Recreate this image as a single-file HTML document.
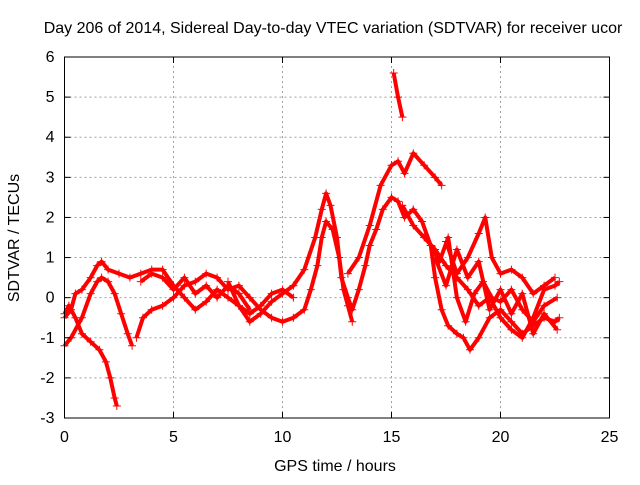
<!DOCTYPE html>
<html><head><meta charset="utf-8"><style>
body{margin:0;background:#fff;}
svg text{font-family:"Liberation Sans",sans-serif;font-size:16px;fill:#000;}
</style></head><body>
<svg id="chart" width="640" height="480" xmlns="http://www.w3.org/2000/svg">
<text x="333" y="33" text-anchor="middle">Day 206 of 2014, Sidereal Day-to-day VTEC variation (SDTVAR) for receiver ucor</text>
<text x="335" y="471" text-anchor="middle">GPS time / hours</text>
<text transform="translate(19,238) rotate(-90)" text-anchor="middle">SDTVAR / TECUs</text>
<g id="grid"></g><g id="series"></g><g id="axes"></g>
</svg>
<script>
const xTicks=[0,5,10,15,20,25];
const yTicks=[-3,-2,-1,0,1,2,3,4,5,6];
const t1=[[0,-0.4],[0.2,-0.2],[0.5,-0.5],[0.8,-0.9],[1.2,-1.1],[1.6,-1.3],[1.9,-1.6],[2.1,-2.0],[2.3,-2.5],[2.4,-2.7]];
const t2=[[0,-1.2],[0.3,-1.0],[0.8,-0.5],[1.2,0.1],[1.5,0.4],[1.7,0.5],[2.0,0.4],[2.3,0.1],[2.6,-0.4],[2.9,-0.9],[3.1,-1.2]];
const t3=[[0,-0.5],[0.3,-0.3],[0.5,0.1],[0.8,0.2],[1.2,0.5],[1.5,0.8],[1.7,0.9],[2.0,0.7],[2.5,0.6],[3.0,0.5],[3.5,0.6],[4.0,0.7],[4.5,0.7],[5,0.3],[5.5,0.0],[6,-0.3],[6.5,-0.1],[7,0.2],[7.5,0.0],[8,-0.2],[8.5,-0.4],[9,-0.2],[9.5,0.1],[10,0.2],[10.5,0.0]];
const t4=[[3.3,-1.0],[3.6,-0.5],[4.0,-0.3],[4.5,-0.2],[5,0.0],[5.5,0.3],[6,0.4],[6.5,0.6],[7,0.5],[7.5,0.2],[8,0.3],[8.5,0.0],[9,-0.3],[9.5,-0.5],[10,-0.6],[10.5,-0.5],[11,-0.3],[11.3,0.2],[11.6,0.8],[11.8,1.5],[12,1.9],[12.3,1.7],[12.6,1.0],[12.8,0.2],[13,-0.2],[13.2,-0.6]];
const t5=[[7.5,0.4],[8,-0.2],[8.5,-0.6],[9,-0.4],[9.5,-0.1],[10,0.1],[10.5,0.3],[11,0.7],[11.5,1.5],[11.8,2.2],[12,2.6],[12.2,2.3],[12.5,1.5],[12.7,0.5],[13,0.0],[13.2,-0.3],[13.5,0.2],[13.8,0.8],[14,1.3],[14.3,1.7],[14.6,2.2],[15,2.5],[15.3,2.4],[15.6,2.0],[16,2.2],[16.4,1.9],[16.8,1.3],[17,0.5],[17.3,-0.3],[17.6,-0.7],[18,-0.9],[18.3,-1.0],[18.6,-1.3],[19,-1.0],[19.5,-0.5],[20,-0.3],[20.5,-0.6],[21,-0.9],[21.5,-0.7],[22,-0.5],[22.5,-0.6],[22.7,-0.5]];
const t6=[[13,0.6],[13.5,1.0],[14,1.8],[14.5,2.8],[15,3.3],[15.3,3.4],[15.6,3.1],[16,3.6],[16.5,3.3],[17,3.0],[17.3,2.8]];
const t7=[[15.1,5.6],[15.3,5.0],[15.5,4.5]];
const t8=[[15.5,2.3],[16,1.8],[16.5,1.5],[17,1.2],[17.5,0.8],[18,0.5],[18.5,0.2],[19,-0.2],[19.5,0.0],[20,-0.5],[20.5,-0.8],[21,-1.0],[21.5,-0.5],[22,0.2],[22.5,0.3],[22.7,0.4]];
const t9=[[17.5,1.4],[18,0.6],[18.5,1.0],[19,1.6],[19.3,2.0],[19.6,1.0],[20,0.6],[20.5,0.7],[21,0.5],[21.5,0.1],[22,0.3],[22.5,0.5]];
const t10=[[16.8,1.3],[17.2,0.9],[17.6,1.5],[18,0.0],[18.4,-0.6],[18.8,0.1],[19.2,0.4],[19.6,0.0],[20,-0.1],[20.5,0.2],[21,-0.3],[21.5,-0.6],[22,-0.2],[22.6,0.0]];
const t11=[[17,1.0],[17.5,0.3],[18,1.2],[18.5,0.5],[19,0.9],[19.5,-0.3],[20,0.2],[20.5,-0.4],[21,0.1],[21.5,-0.9],[22,-0.4],[22.6,-0.8]];
const t12=[[3.5,0.4],[4,0.6],[4.5,0.5],[5,0.2],[5.5,0.5],[6,0.1],[6.5,0.3],[7,0.0],[7.5,0.3],[8,0.1],[8.5,-0.3]];
const allSeries=[t1,t2,t3,t4,t5,t6,t7,t8,t9,t10,t11,t12];

const NS="http://www.w3.org/2000/svg";
const X0=64.5,X1=609.5,Y0=418,Y1=57;
const sx=v=>X0+(v-0)/(25-0)*(X1-X0);
const sy=v=>Y0-(v+3)/(6+3)*(Y0-Y1);
function mk(tag,attrs,parent){const e=document.createElementNS(NS,tag);for(const k in attrs)e.setAttribute(k,attrs[k]);parent.appendChild(e);return e;}
const grid=document.getElementById('grid'),axes=document.getElementById('axes'),ser=document.getElementById('series');
xTicks.forEach(t=>{
  if(t>0&&t<25){const g=mk('line',{x1:sx(t),x2:sx(t),y1:Y0,y2:Y1,stroke:'#a0a0a0','stroke-dasharray':'2,3'},grid);
  
  }
  const l=mk('text',{x:sx(t),y:Y0+24,'text-anchor':'middle'},axes);l.textContent=t;
  
  
  mk('line',{x1:sx(t),x2:sx(t),y1:Y0,y2:Y0-6,stroke:'#000'},axes);
  mk('line',{x1:sx(t),x2:sx(t),y1:Y1,y2:Y1+6,stroke:'#000'},axes);
});
yTicks.forEach(t=>{
  if(t>-3&&t<6){const g=mk('line',{x1:X0,x2:X1,y1:sy(t),y2:sy(t),stroke:'#a0a0a0','stroke-dasharray':'2,3'},grid);
  
  }
  const l=mk('text',{x:X0-10,y:sy(t)+5,'text-anchor':'end'},axes);l.textContent=t;
  
  
  mk('line',{x1:X0,x2:X0+6,y1:sy(t),y2:sy(t),stroke:'#000'},axes);
  mk('line',{x1:X1,x2:X1-6,y1:sy(t),y2:sy(t),stroke:'#000'},axes);
});
const fr=mk('rect',{x:X0,y:Y1,width:X1-X0,height:Y0-Y1,fill:'none',stroke:'#000'},axes);


allSeries.forEach((s,i)=>{
  const g=mk('g',{},ser);
  
  
  mk('polyline',{points:s.map(p=>sx(p[0])+','+sy(p[1])).join(' '),fill:'none',stroke:'#f00','stroke-width':4,'stroke-linejoin':'round'},g);
  s.forEach(p=>{const x=sx(p[0]),y=sy(p[1]);
    const m=mk('path',{d:`M${x-4},${y}H${x+4}M${x},${y-4}V${y+4}`,stroke:'#f00','stroke-width':1},g);
    
    });
});
</script>
</body></html>
